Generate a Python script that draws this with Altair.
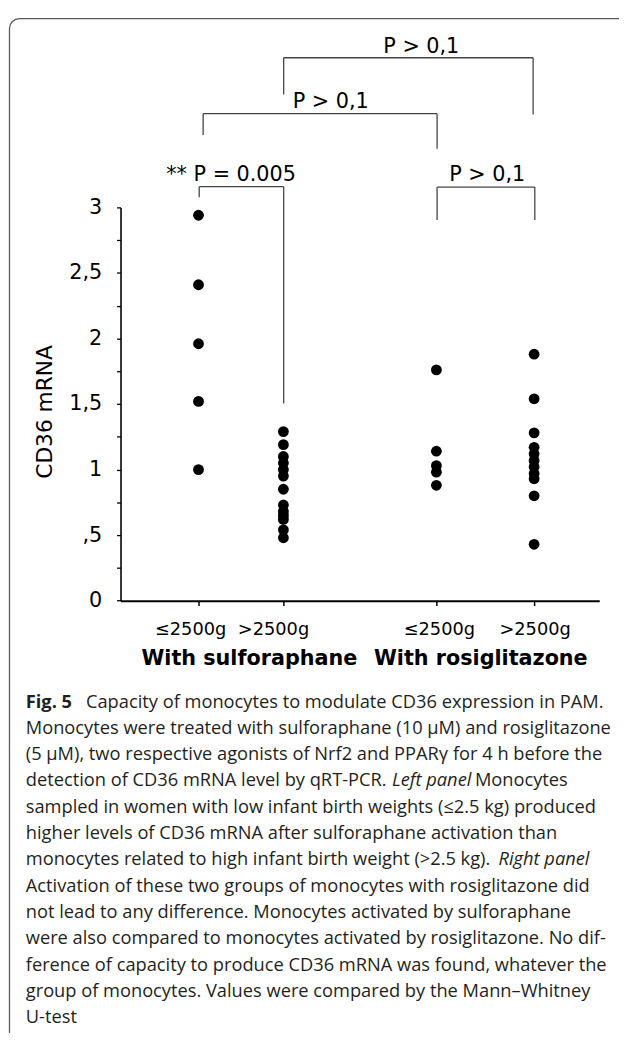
import altair as alt
import pandas as pd

# ---------------- data ----------------
GROUPS = ["sulf_low", "sulf_high", "rosi_low", "rosi_high"]
TICK_LABELS = ["≤2500g", ">2500g", "≤2500g", ">2500g"]
TREATMENTS = ["With sulforaphane", "With rosiglitazone"]
SULF_LOW = [2.94, 2.41, 1.96, 1.52, 1.00]
SULF_HIGH = [1.29, 1.19, 1.10, 1.05, 1.00, 0.95, 0.85, 0.73, 0.68, 0.65, 0.62, 0.54, 0.48]
ROSI_LOW = [1.76, 1.14, 1.03, 0.98, 0.88]
ROSI_HIGH = [1.88, 1.54, 1.28, 1.17, 1.12, 1.07, 1.02, 0.97, 0.93, 0.80, 0.43]
Y_TICKS = [0, 0.25, 0.5, 0.75, 1, 1.25, 1.5, 1.75, 2, 2.25, 2.5, 2.75, 3]
Y_TITLE = "CD36 mRNA"
P_LABELS = ["P > 0,1", "P > 0,1", "** P = 0.005", "P > 0,1"]

CAPTION = [
    [("Fig. 5", "bold", 26), ("Capacity of monocytes to modulate CD36 expression in PAM.", "normal", 87)],
    [("Monocytes were treated with sulforaphane (10 µM) and rosiglitazone", "normal", 26)],
    [("(5 µM), two respective agonists of Nrf2 and PPARγ for 4 h before the", "normal", 26)],
    [("detection of CD36 mRNA level by qRT-PCR.", "normal", 26), ("Left panel", "italic", 397), ("Monocytes", "normal", 481)],
    [("sampled in women with low infant birth weights (≤2.5 kg) produced", "normal", 26)],
    [("higher levels of CD36 mRNA after sulforaphane activation than", "normal", 26)],
    [("monocytes related to high infant birth weight (>2.5 kg).", "normal", 26), ("Right panel", "italic", 505)],
    [("Activation of these two groups of monocytes with rosiglitazone did", "normal", 26)],
    [("not lead to any difference. Monocytes activated by sulforaphane", "normal", 26)],
    [("were also compared to monocytes activated by rosiglitazone. No dif-", "normal", 26)],
    [("ference of capacity to produce CD36 mRNA was found, whatever the", "normal", 26)],
    [("group of monocytes. Values were compared by the Mann–Whitney", "normal", 26)],
    [("U-test", "normal", 26)],
]

# ---------------- layout (page pixels) ----------------
VIEW_LEFT, VIEW_TOP, VIEW_W, VIEW_H = 122, 203.3, 485, 398.4
X_DOMAIN = [-0.919, 4.721]
Y_DOMAIN = [0, 3]


def px_x(X):
    return X_DOMAIN[0] + (X - VIEW_LEFT) / VIEW_W * (X_DOMAIN[1] - X_DOMAIN[0])


def px_y(Y):
    return Y_DOMAIN[1] - (Y - VIEW_TOP) / VIEW_H * (Y_DOMAIN[1] - Y_DOMAIN[0])


SLOTS = [px_x(201), px_x(287), px_x(442), px_x(541)]
# tick-label anchors (centre x, baseline y) as placed in the figure
TICK_LABEL_POS = [(193, 636), (277, 636), (445, 636), (542, 636)]
# brackets: left leg x, right leg x, bar y, left leg end y, right leg end y, label x, label baseline y
BRACKETS = [
    (287.3, 540.0, 51.7, 89.0, 109.3, 426.7, 46.5),
    (205.7, 442.7, 108.3, 130.0, 144.0, 335.0, 102.5),
    (201.7, 287.3, 182.3, 193.0, 402.0, 234.0, 176.8),
    (442.7, 541.7, 182.7, 216.0, 216.0, 493.5, 176.8),
]
TITLE_POS = [(252.5, 667), (487, 667)]
CAP_Y0, CAP_DY = 710, 26.65

FONT = "DejaVu Sans"
CAP_FONT = "Open Sans"
CAP_SIZE = 18.5
CAP_COLOR = "#231f20"

xs = alt.Scale(domain=X_DOMAIN, nice=False, zero=False)
ys = alt.Scale(domain=Y_DOMAIN, nice=False, zero=False)

ylabel_expr = ("(datum.value * 2) % 1 != 0 ? '' : "
               "replace(replace(format(datum.value, '~g'), '0.', ','), '.', ',')")

XAXIS = alt.Axis(
    values=SLOTS, labels=False, title=None, grid=False,
    tickSize=5, tickWidth=1.5, tickColor="black",
    domainColor="black", domainWidth=2)
YAXIS = alt.Axis(
    values=Y_TICKS, labelExpr=ylabel_expr, title=Y_TITLE, grid=False,
    tickSize=4, tickWidth=1.3, tickColor="black",
    domainColor="black", domainWidth=1.6,
    labelFont=FONT, labelFontSize=21, labelColor="black", labelPadding=15,
    labelOverlap=False, labelFlush=False,
    titleFont=FONT, titleFontSize=22, titleFontWeight="normal", titleColor="black",
    titleAngle=270, titleAlign="center", titleBaseline="middle",
    titleX=-77, titleY=206.7)


def X(field):
    return alt.X(field, scale=xs, axis=XAXIS, title=None)


def Y(field):
    return alt.Y(field, scale=ys, axis=YAXIS, title=Y_TITLE)


# ---------------- tables ----------------
rows = []
for g, vals in zip(GROUPS, [SULF_LOW, SULF_HIGH, ROSI_LOW, ROSI_HIGH]):
    for v in vals:
        rows.append({"group": g, "value": v, "slot": SLOTS[GROUPS.index(g)]})
pts = pd.DataFrame(rows)

seg = []
lab = []
for (xl, xr, yb, yl, yr, lx, ly), txt in zip(BRACKETS, P_LABELS):
    seg.append({"x": px_x(xl), "x2": px_x(xr), "y": px_y(yb), "y2": px_y(yb)})
    seg.append({"x": px_x(xl), "x2": px_x(xl), "y": px_y(yb), "y2": px_y(yl)})
    seg.append({"x": px_x(xr), "x2": px_x(xr), "y": px_y(yb), "y2": px_y(yr)})
    lab.append({"x": px_x(lx), "y": px_y(ly), "text": txt})
seg = pd.DataFrame(seg)
lab = pd.DataFrame(lab)

ticklab = pd.DataFrame([{"x": px_x(p[0]), "y": px_y(p[1]), "text": t} for p, t in zip(TICK_LABEL_POS, TICK_LABELS)])
titles = pd.DataFrame([{"x": px_x(p[0]), "y": px_y(p[1]), "text": t} for p, t in zip(TITLE_POS, TREATMENTS)])

cap = []
for i, line in enumerate(CAPTION):
    for txt, style, xpx in line:
        cap.append({"x": px_x(xpx), "y": px_y(CAP_Y0 + i * CAP_DY), "text": txt, "style": style})
cap = pd.DataFrame(cap)

border = pd.DataFrame([{"x": px_x(9.5), "x2": px_x(660), "y": px_y(12), "y2": px_y(1070)}])

# ---------------- layers ----------------
points = alt.Chart(pts).mark_circle(size=120, color="black", opacity=1).encode(
    x=X("slot:Q"), y=Y("value:Q")
)

frame = alt.Chart(border).mark_rect(
    fillOpacity=0, stroke="#5a5a5a", strokeWidth=1.3, cornerRadius=10
).encode(x=X("x:Q"), x2="x2:Q", y=Y("y:Q"), y2="y2:Q")

rules = alt.Chart(seg).mark_rule(color="#444444", strokeWidth=1.3).encode(
    x=X("x:Q"), x2="x2:Q", y=Y("y:Q"), y2="y2:Q"
)

plabels = alt.Chart(lab).mark_text(
    font=FONT, fontSize=21, color="black", align="center", baseline="alphabetic"
).encode(x=X("x:Q"), y=Y("y:Q"), text="text:N")

tlabels = alt.Chart(ticklab).mark_text(
    font=FONT, fontSize=18, color="black", align="center", baseline="alphabetic"
).encode(x=X("x:Q"), y=Y("y:Q"), text="text:N")

gtitles = alt.Chart(titles).mark_text(
    font=FONT, fontSize=21, fontWeight="bold", color="black", align="center", baseline="alphabetic"
).encode(x=X("x:Q"), y=Y("y:Q"), text="text:N")

cap_layers = []
for style in ["normal", "bold", "italic"]:
    kw = {}
    if style == "bold":
        kw["fontWeight"] = "bold"
    if style == "italic":
        kw["fontStyle"] = "italic"
    cap_layers.append(
        alt.Chart(cap[cap["style"] == style]).mark_text(
            font=CAP_FONT, fontSize=CAP_SIZE, color=CAP_COLOR, align="left", baseline="alphabetic", **kw
        ).encode(x=X("x:Q"), y=Y("y:Q"), text="text:N")
    )

chart = alt.layer(points, frame, rules, plabels, tlabels, gtitles, *cap_layers).properties(
    width=VIEW_W,
    height=VIEW_H,
    autosize=alt.AutoSizeParams(type="none"),
    padding={"left": VIEW_LEFT - 8, "top": VIEW_TOP - 8, "right": 627 - VIEW_LEFT - VIEW_W,
             "bottom": 1041 - 8 - VIEW_TOP - VIEW_H},
).configure_view(stroke="transparent")

chart.save("out.html", embed_options={"renderer": "svg", "actions": False})
